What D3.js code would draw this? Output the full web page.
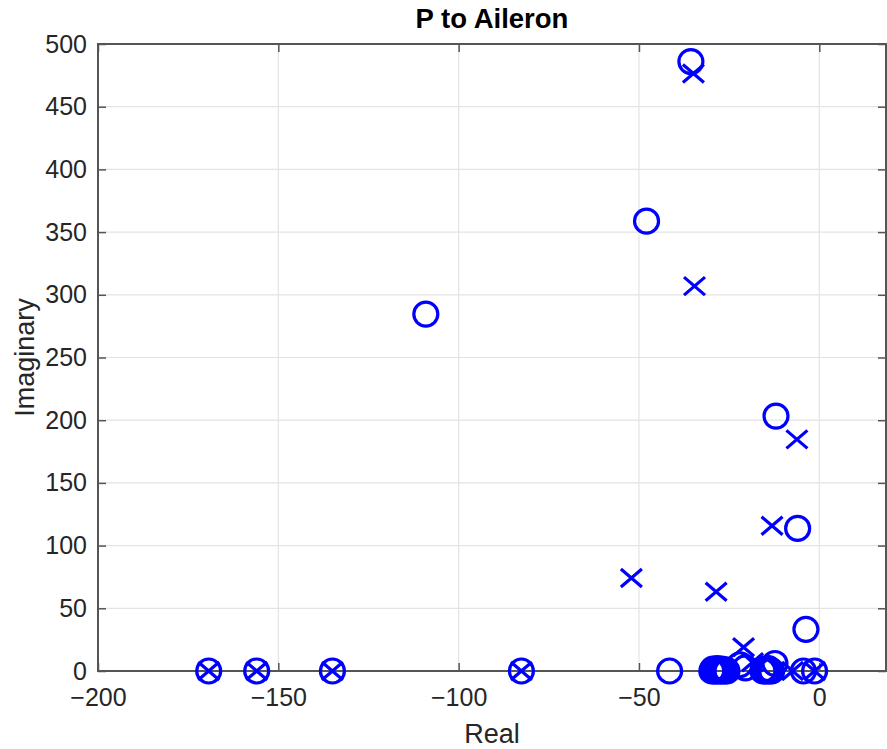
<!DOCTYPE html>
<html>
<head>
<meta charset="utf-8">
<script src="https://cdn.jsdelivr.net/npm/d3@7"></script>
<style>
  html, body { margin: 0; padding: 0; background: #fff; }
  svg { display: block; font-family: "Liberation Sans", Arial, Helvetica, sans-serif; }
</style>
</head>
<body>
<svg id="chart" width="887" height="749"></svg>
<script>
// Pole-zero map: P to Aileron
const title = "P to Aileron";
const xLabel = "Real";
const yLabel = "Imaginary";
const xTicks = [-200, -150, -100, -50, 0];
const yTicks = [0, 50, 100, 150, 200, 250, 300, 350, 400, 450, 500];

// zeros (drawn as circles): real and imaginary parts
const zerosRe = [-169.3, -156, -135, -82.6, -35.6, -47.9, -109.1, -12, -6, -3.7, -41.5,
                 -29.8, -29.2, -28.6, -28, -27.4, -26.8, -26.2, -25.6, -29.5, -28.3, -27.1, -25.9,
                 -20.5, -22,
                 -15.6, -15, -14.4, -13.8, -13.2, -15.3, -14.1, -12.3,
                 -4.4, -1.3];
const zerosIm = [0, 0, 0, 0, 486, 358.7, 284.6, 203.3, 113.7, 33.2, 0,
                 0, 0, 0, 0, 0, 0, 0, 0, 1.5, 2, 1.5, 1,
                 2.5, 5,
                 0, 0, 0, 0, 0, 1.5, 2, 6,
                 0, 0];

// poles (drawn as crosses): real and imaginary parts
const polesRe = [-169.3, -156, -135, -82.6, -34.9, -34.6, -6.2, -13.1, -52.1, -28.6, -21, -7.4, -1.3, -18.5];
const polesIm = [0, 0, 0, 0, 476.5, 306.9, 184.7, 115.8, 74.1, 63.2, 18.9, 0, 0, 7];

const zeros = zerosRe.map((r, i) => ({ re: r, im: zerosIm[i] }));
const poles = polesRe.map((r, i) => ({ re: r, im: polesIm[i] }));

const svg = d3.select("#chart");
const plot = { left: 98, right: 886, top: 44, bottom: 671 };

const x = d3.scaleLinear().domain([-200, 18.5]).range([plot.left, plot.right]);
const y = d3.scaleLinear().domain([0, 500]).range([plot.bottom, plot.top]);

const gridColor = "#e3e3e3";
const axisColor = "#555555";
const textColor = "#262626";
const blue = "#0000ff";

// grid
const grid = svg.append("g");
grid.selectAll(".gx").data(xTicks).join("line")
  .attr("x1", d => x(d)).attr("x2", d => x(d))
  .attr("y1", plot.top).attr("y2", plot.bottom)
  .attr("stroke", gridColor).attr("stroke-width", 1.2);
grid.selectAll(".gy").data(yTicks).join("line")
  .attr("y1", d => y(d)).attr("y2", d => y(d))
  .attr("x1", plot.left).attr("x2", plot.right)
  .attr("stroke", gridColor).attr("stroke-width", 1.2);

// axes (ticks pointing inward, box on)
const tickLen = 8;
const xAxisBottom = d3.axisBottom(x).tickValues(xTicks).tickSize(-tickLen).tickPadding(17).tickFormat(d3.format("d"));
const xAxisTop = d3.axisTop(x).tickValues(xTicks).tickSize(-tickLen).tickFormat("");
const yAxisLeft = d3.axisLeft(y).tickValues(yTicks).tickSize(-tickLen).tickPadding(11).tickFormat(d3.format("d"));
const yAxisRight = d3.axisRight(y).tickValues(yTicks).tickSize(-tickLen).tickFormat("");

function styleAxis(g) {
  g.select(".domain").remove();
  g.selectAll(".tick line").attr("stroke", axisColor).attr("stroke-width", 1.5);
  g.selectAll(".tick text").attr("fill", textColor).attr("font-size", 25)
    .attr("font-family", "Liberation Sans, Arial, sans-serif");
}

svg.append("g").attr("transform", `translate(0,${plot.bottom})`).call(xAxisBottom).call(styleAxis);
svg.append("g").attr("transform", `translate(0,${plot.top})`).call(xAxisTop).call(styleAxis);
svg.append("g").attr("transform", `translate(${plot.left},0)`).call(yAxisLeft).call(styleAxis);
svg.append("g").attr("transform", `translate(${plot.right},0)`).call(yAxisRight).call(styleAxis);

// box
svg.append("rect")
  .attr("x", plot.left).attr("y", plot.top)
  .attr("width", plot.right - plot.left).attr("height", plot.bottom - plot.top)
  .attr("fill", "none").attr("stroke", axisColor).attr("stroke-width", 2);

// zeros
svg.append("g").selectAll("circle").data(zeros).join("circle")
  .attr("cx", d => x(d.re)).attr("cy", d => y(d.im))
  .attr("r", 12)
  .attr("fill", "none").attr("stroke", blue).attr("stroke-width", 3.2);

// poles
const hw = 10.5, hh = 9;
svg.append("g").selectAll("path").data(poles).join("path")
  .attr("d", d => {
    const cx = x(d.re), cy = y(d.im);
    return `M${cx - hw},${cy - hh}L${cx + hw},${cy + hh}M${cx - hw},${cy + hh}L${cx + hw},${cy - hh}`;
  })
  .attr("fill", "none").attr("stroke", blue).attr("stroke-width", 3.2);

// labels
svg.append("text").attr("x", (plot.left + plot.right) / 2).attr("y", 28)
  .attr("text-anchor", "middle").attr("font-size", 27.5).attr("font-weight", "bold")
  .attr("fill", "#000").text(title);

svg.append("text").attr("x", (plot.left + plot.right) / 2).attr("y", 743)
  .attr("text-anchor", "middle").attr("font-size", 27)
  .attr("fill", textColor).text(xLabel);

svg.append("text")
  .attr("transform", `translate(34,${(plot.top + plot.bottom) / 2}) rotate(-90)`)
  .attr("text-anchor", "middle").attr("font-size", 27)
  .attr("fill", textColor).text(yLabel);
</script>
</body>
</html>
